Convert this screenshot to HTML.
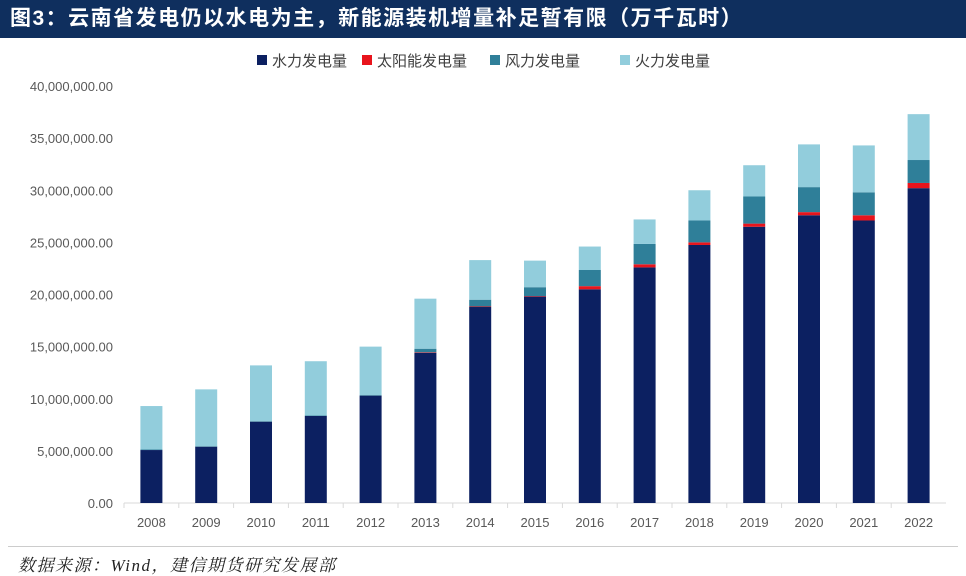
<!DOCTYPE html>
<html><head><meta charset="utf-8"><style>
body{margin:0;background:#fff;width:966px;height:575px;overflow:hidden;font-family:"Liberation Sans","Noto Sans CJK SC",sans-serif}
#title{position:absolute;left:0;top:0;width:966px;height:38px;background:#0f2f5e;color:#fff;font-weight:bold;font-size:21px;line-height:38px;padding-left:10px;box-sizing:border-box;letter-spacing:1.5px;font-family:"Liberation Sans","Noto Sans CJK SC",sans-serif;white-space:nowrap}
#src{position:absolute;left:18px;top:551px;font-size:17px;font-style:italic;color:#222;letter-spacing:1.5px;font-family:"Liberation Serif","Noto Serif CJK SC",serif;white-space:nowrap}
#line{position:absolute;left:8px;top:546px;width:950px;height:1px;background:#ccc}
</style></head><body>
<div id="title">图3：云南省发电仍以水电为主，新能源装机增量补足暂有限（万千瓦时）</div>
<svg id="chart" width="966" height="575" style="position:absolute;left:0;top:0;pointer-events:none"></svg>
<div id="line"></div>
<div id="src">数据来源：Wind，建信期货研究发展部</div>
<script>
const years=["2008","2009","2010","2011","2012","2013","2014","2015","2016","2017","2018","2019","2020","2021","2022"];
const hydro=[5.08,5.4,7.8,8.35,10.3,14.4,18.8,19.8,20.5,22.6,24.75,26.5,27.6,27.1,30.2];
const solar=[0,0,0,0,0,0.05,0.05,0.05,0.3,0.3,0.25,0.3,0.3,0.5,0.5];
const wind=[0.05,0.05,0.05,0.05,0.05,0.35,0.65,0.85,1.55,1.95,2.1,2.6,2.4,2.2,2.2];
const thermal=[4.17,5.45,5.35,5.2,4.65,4.8,3.8,2.55,2.25,2.35,2.9,3.0,4.1,4.5,4.4];
const yTicks=[0,5,10,15,20,25,30,35,40];
const yLabels=["0.00","5,000,000.00","10,000,000.00","15,000,000.00","20,000,000.00","25,000,000.00","30,000,000.00","35,000,000.00","40,000,000.00"];
const seriesNames=["水力发电量","太阳能发电量","风力发电量","火力发电量"];
const colors=["#0c2061","#e8141c","#2f7f99","#92cddc"];
const svg=document.getElementById('chart');const NS="http://www.w3.org/2000/svg";
const y0=503,y1=86,vmax=40,xL=124,xR=946;
const ys=v=>y0-(v/vmax)*(y0-y1);
const step=(xR-xL)/years.length;
const xc=i=>xL+step*(i+0.5);
function mk(t,a){const e=document.createElementNS(NS,t);for(const k in a)e.setAttribute(k,a[k]);svg.appendChild(e);return e;}
yTicks.forEach((v,i)=>{const t=mk('text',{x:113,y:ys(v)+5,'text-anchor':'end','font-size':13,fill:'#595959'});t.textContent=yLabels[i];

});
const ax=mk('line',{x1:xL,x2:xR,y1:y0,y2:y0,stroke:'#d9d9d9'});


const data=[hydro,solar,wind,thermal];
years.forEach((yr,i)=>{
  const tk=mk('line',{x1:xL+step*i,x2:xL+step*i,y1:y0,y2:y0+5,stroke:'#d9d9d9'});
  
  
  let acc=0;
  data.forEach((s,k)=>{const v=s[i];const r=mk('rect',{x:xc(i)-11,width:22,y:ys(acc+v),height:ys(acc)-ys(acc+v),fill:colors[k]});acc+=v;
    
    });
  const t=mk('text',{x:xc(i),y:527,'text-anchor':'middle','font-size':13,fill:'#595959'});t.textContent=yr;
  
  
});
const lx=[257,362,490,620];
seriesNames.forEach((n,k)=>{
  const r=mk('rect',{x:lx[k],y:55,width:10,height:10,fill:colors[k]});
  
  
  const t=mk('text',{x:lx[k]+15,y:66,'font-size':15,fill:'#404040'});t.textContent=n;
  
  
});
</script>
</body></html>
